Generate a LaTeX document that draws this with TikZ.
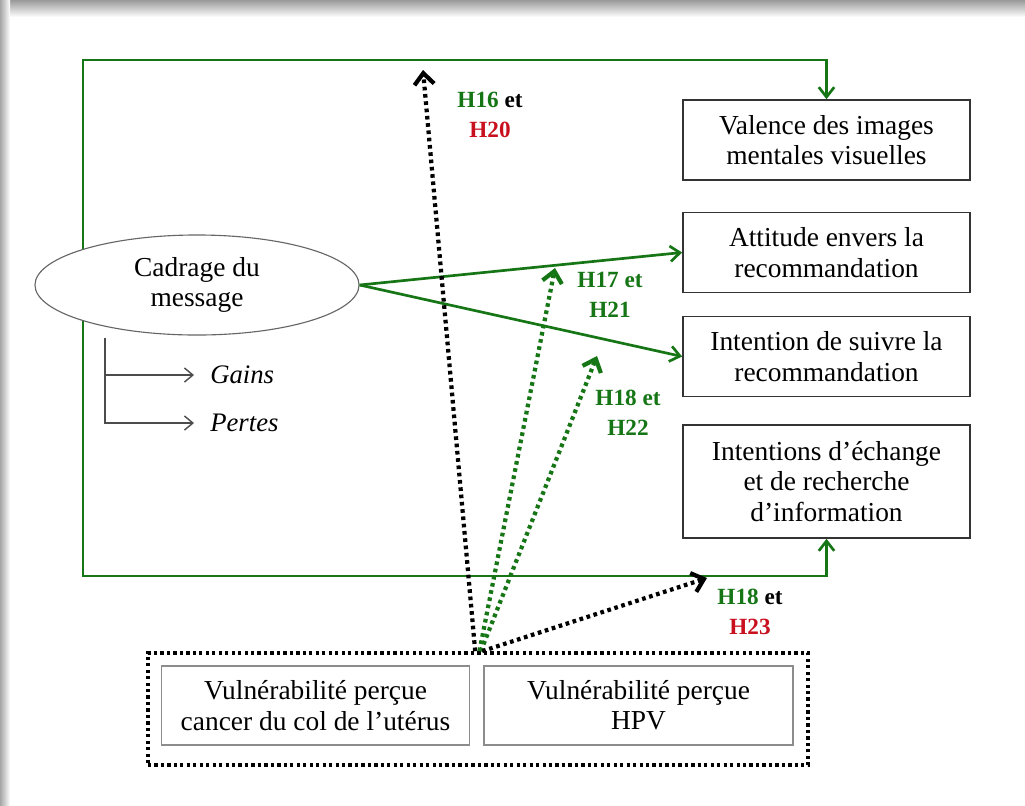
\documentclass[tikz,border=0pt]{standalone}
\usepackage{fontspec}
\setmainfont{Liberation Serif}
\usetikzlibrary{arrows.meta,shapes.geometric}
\definecolor{hgreen}{RGB}{22,118,22}
\definecolor{hred}{RGB}{200,16,30}

\begin{document}
\begin{tikzpicture}[x=0.025cm,y=-0.025cm,
  varbox/.style={draw=black!80,line width=1.2pt,fill=white,align=center,
    minimum width=7.175cm,minimum height=2cm,font=\fontsize{19.5}{21.5}\selectfont},
  vulbox/.style={draw=black!45,line width=1.2pt,fill=white,align=center,
    minimum width=7.7cm,minimum height=1.975cm,font=\fontsize{19.5}{21.5}\selectfont},
  hlabel/.style={align=center,font=\fontsize{16.5}{21}\selectfont\bfseries},
  frameline/.style={draw=hgreen,line width=1.9pt},
  greenarrow/.style={draw=hgreen,line width=1.9pt,-{Straight Barb[length=7pt,width=11pt]}},
  dotarrow/.style={line width=3pt,dash pattern=on 2.6pt off 2.6pt,
    -{Straight Barb[length=8pt,width=14pt]}},
  subarrow/.style={draw=black!70,line width=1pt,-{Straight Barb[length=6pt,width=10pt]}}]
\useasboundingbox (0,0) rectangle (1025,805);
% page and its shadow
\fill[white] (0,0) rectangle (1025,805);
\shade[top color=black!40,bottom color=white] (0,0) rectangle (1025,17);
\shade[left color=black!35,right color=white] (0,0) rectangle (10,805);

% dependent variables
\node[varbox] (Val) at (826.5,140) {Valence des images\\mentales visuelles};
\node[varbox] (Att) at (826.5,252.5) {Attitude envers la\\recommandation};
\node[varbox] (Int) at (826.5,356.5) {Intention de suivre la\\recommandation};
\node[varbox,minimum height=2.825cm] (Ech) at (826.5,481.5) {Intentions d’échange\\et de recherche\\d’information};

% green frame
\coordinate (NW) at (83,60);
\coordinate (SW) at (83,576);
\draw[frameline,{Straight Barb[length=7pt,width=11pt]}-{Straight Barb[length=7pt,width=11pt]}]
  (Val.north) |- (NW) -- (SW) -| (Ech.south);

% message framing
\node[draw=black!60,line width=0.8pt,fill=white,ellipse,minimum width=8.1cm,minimum height=2.5cm,
  align=center,font=\fontsize{19.5}{21.5}\selectfont] (Cad) at (197,285) {Cadrage du\\message};
\draw[greenarrow] (Cad.east) -- (Att.west);
\draw[greenarrow] (Cad.east) -- (Int.west);

\coordinate (Br) at (105,338);
\node[anchor=west,inner sep=0pt,font=\fontsize{19}{21}\selectfont\itshape] (Gains) at (210,375) {Gains};
\node[anchor=west,inner sep=0pt,font=\fontsize{19}{21}\selectfont\itshape] (Pertes) at (210,423) {Pertes};
\draw[subarrow,shorten >=0.4cm] (Br) |- (Gains.west);
\draw[subarrow,shorten >=0.4cm] (Br) |- (Pertes.west);

% perceived vulnerability
\node[draw,line width=2.6pt,dash pattern=on 2.3pt off 2.3pt,minimum width=16.5cm,minimum height=2.8cm] (Vul) at (478,709) {};
\node[vulbox] (VulC) at (315.5,705.5) {Vulnérabilité perçue\\cancer du col de l’utérus};
\node[vulbox,minimum width=7.725cm] (VulH) at (638.5,705.5) {Vulnérabilité perçue\\HPV};

% hypotheses
\coordinate (TA) at (423,70);
\coordinate (TB) at (555,268);
\coordinate (TC) at (597,356);
\coordinate (TD) at (707,578);
\draw[dotarrow] ([xshift=-2]Vul.north) -- (TA);
\draw[dotarrow,hgreen] ([xshift=1]Vul.north) -- (TB);
\draw[dotarrow,hgreen] ([xshift=2]Vul.north) -- (TC);
\draw[dotarrow] ([xshift=3]Vul.north) -- (TD);

\node[hlabel] (LA) at (490,115) {\textcolor{hgreen}{H16} et\\\textcolor{hred}{H20}};
\node[hlabel,text=hgreen] (LB) at (610,295) {H17 et\\H21};
\node[hlabel,text=hgreen] (LC) at (628,413) {H18 et\\H22};
\node[hlabel] (LD) at (750,612) {\textcolor{hgreen}{H18} et\\\textcolor{hred}{H23}};
\end{tikzpicture}
\end{document}
